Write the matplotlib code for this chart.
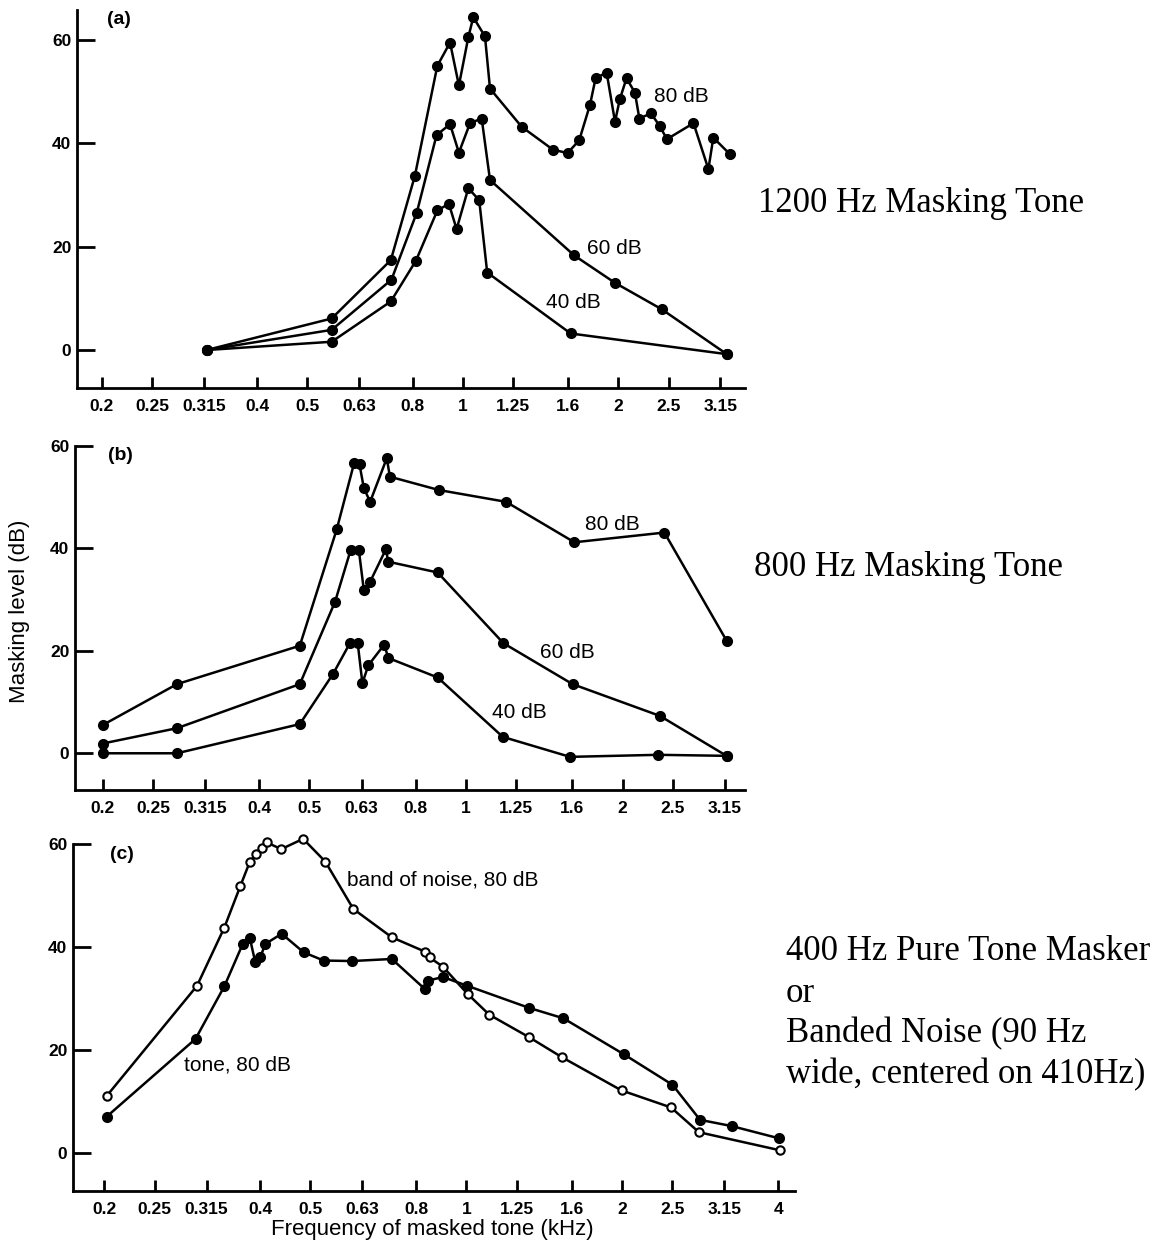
import matplotlib
matplotlib.use("Agg")
import matplotlib.pyplot as plt

# ---- data (kHz, dB) ----
tick_vals = [0.2, 0.25, 0.315, 0.4, 0.5, 0.63, 0.8, 1, 1.25, 1.6, 2, 2.5, 3.15, 4]
tick_labels = ["0.2", "0.25", "0.315", "0.4", "0.5", "0.63", "0.8", "1", "1.25", "1.6", "2", "2.5", "3.15", "4"]

# panel (a): 1200 Hz masker
a80_f = [0.319, 0.557, 0.725, 0.807, 0.892, 0.944, 0.982, 1.024, 1.047, 1.103, 1.128, 1.299, 1.492, 1.594,
         1.679, 1.762, 1.806, 1.897, 1.969, 2.013, 2.073, 2.152, 2.195, 2.311, 2.402, 2.482, 2.794, 2.986,
         3.052, 3.286]
a80_db = [0, 6.1, 17.4, 33.7, 55.0, 59.5, 51.2, 60.5, 64.4, 60.7, 50.6, 43.2, 38.8, 38.1,
          40.6, 47.5, 52.6, 53.7, 44.2, 48.6, 52.6, 49.8, 44.8, 45.8, 43.4, 40.8, 43.9, 35.0,
          41.1, 37.9]
a60_f = [0.319, 0.557, 0.727, 0.814, 0.889, 0.944, 0.982, 1.032, 1.087, 1.128, 1.642, 1.969, 2.424, 3.241]
a60_db = [0, 3.9, 13.6, 26.6, 41.6, 43.7, 38.2, 43.9, 44.8, 32.9, 18.3, 13.0, 7.9, -0.8]
a40_f = [0.319, 0.557, 0.725, 0.811, 0.892, 0.939, 0.972, 1.024, 1.075, 1.114, 1.616, 3.241]
a40_db = [0, 1.6, 9.4, 17.3, 27.0, 28.3, 23.4, 31.3, 29.0, 15.0, 3.2, -0.8]

# panel (b): 800 Hz masker
b80_f = [0.2, 0.278, 0.479, 0.564, 0.609, 0.624, 0.636, 0.654, 0.704, 0.714, 0.887, 1.194, 1.616, 2.407, 3.17]
b80_db = [5.5, 13.5, 21.0, 43.7, 56.6, 56.4, 51.8, 49.1, 57.6, 54.0, 51.4, 49.1, 41.2, 43.1, 22.0]
b60_f = [0.2, 0.278, 0.479, 0.560, 0.600, 0.622, 0.636, 0.654, 0.701, 0.709, 0.882, 1.18, 1.603, 2.36, 3.17]
b60_db = [1.9, 4.9, 13.5, 29.6, 39.7, 39.7, 31.9, 33.5, 39.8, 37.4, 35.3, 21.5, 13.5, 7.3, -0.5]
b40_f = [0.2, 0.278, 0.479, 0.555, 0.598, 0.619, 0.632, 0.649, 0.696, 0.709, 0.882, 1.177, 1.585, 2.34, 3.17]
b40_db = [0, 0, 5.7, 15.5, 21.5, 21.5, 13.7, 17.2, 21.2, 18.6, 14.8, 3.2, -0.7, -0.3, -0.5]

# panel (c): 400 Hz tone vs. band of noise
noise_f = [0.202, 0.302, 0.341, 0.366, 0.382, 0.393, 0.403, 0.412, 0.439, 0.484, 0.534, 0.605, 0.718,
           0.833, 0.849, 0.901, 1.006, 1.107, 1.323, 1.532, 1.994, 2.484, 2.812, 4.03]
noise_db = [11.1, 32.5, 43.8, 51.8, 56.6, 58.1, 59.3, 60.3, 59.0, 61.0, 56.6, 47.4, 41.9,
            39.1, 38.0, 36.2, 30.9, 26.9, 22.5, 18.6, 12.2, 8.9, 4.1, 0.6]
tone_f = [0.202, 0.300, 0.341, 0.370, 0.382, 0.391, 0.400, 0.409, 0.440, 0.485, 0.530, 0.601, 0.718,
          0.833, 0.843, 0.901, 1.004, 1.323, 1.539, 2.015, 2.50, 2.826, 3.25, 4.02]
tone_db = [7.1, 22.2, 32.4, 40.6, 41.7, 37.2, 38.0, 40.6, 42.6, 39.0, 37.4, 37.3, 37.7,
           31.8, 33.5, 34.2, 32.5, 28.2, 26.2, 19.2, 13.3, 6.5, 5.3, 2.9]

W, H = 1168, 1245
fig = plt.figure(figsize=(W / 100, H / 100), dpi=100)
plt.rcParams['font.family'] = ['Liberation Sans', 'DejaVu Sans']


def make_axes(left, right, top, bottom, xlim, ylim, nticks):
    ax = fig.add_axes([left / W, 1 - bottom / H, (right - left) / W, (bottom - top) / H])
    ax.set_xscale("log")
    ax.set_xlim(*xlim)
    ax.set_ylim(*ylim)
    for s in ["top", "right"]:
        ax.spines[s].set_visible(False)
    for s in ["left", "bottom"]:
        ax.spines[s].set_linewidth(2)
    ax.set_xticks(tick_vals[:nticks])
    ax.set_xticklabels(tick_labels[:nticks])
    ax.xaxis.set_minor_locator(matplotlib.ticker.NullLocator())
    ax.set_yticks([0, 20, 40, 60])
    ax.tick_params(axis="x", direction="in", length=8, width=2, pad=8, labelsize=12.5)
    ax.tick_params(axis="y", direction="in", length=13, width=2, pad=4, labelsize=12.5)
    for lab in ax.get_xticklabels() + ax.get_yticklabels():
        lab.set_fontweight("bold")
    return ax


def curve(ax, f, db, filled=True):
    ax.plot(f, db, color="black", lw=1.8, marker="o", ms=6.5 if filled else 6,
            mfc="black" if filled else "white", mec="black", mew=1.5, clip_on=False, zorder=3)


lbl = dict(fontsize=15, va="center", ha="left")

# (a)
ax_a = make_axes(77, 745, 10, 388, (0.179, 3.515), (-7.35, 65.8), 13)
curve(ax_a, a80_f, a80_db)
curve(ax_a, a60_f, a60_db)
curve(ax_a, a40_f, a40_db)
ax_a.text(0.205, 63.9, "(a)", fontsize=14, fontweight="bold", va="center")
ax_a.text(2.34, 49.0, "80 dB", **lbl)
ax_a.text(1.74, 19.7, "60 dB", **lbl)
ax_a.text(1.45, 9.1, "40 dB", **lbl)

# (b)
ax_b = make_axes(75, 745, 446, 790, (0.177, 3.44), (-7.17, 60), 13)
curve(ax_b, b80_f, b80_db)
curve(ax_b, b60_f, b60_db)
curve(ax_b, b40_f, b40_db)
ax_b.text(0.205, 58.2, "(b)", fontsize=14, fontweight="bold", va="center")
ax_b.text(1.69, 44.6, "80 dB", **lbl)
ax_b.text(1.39, 19.6, "60 dB", **lbl)
ax_b.text(1.12, 7.9, "40 dB", **lbl)

# (c)
ax_c = make_axes(73, 795, 844, 1191, (0.174, 4.31), (-7.3, 60), 14)
curve(ax_c, tone_f, tone_db, filled=True)
curve(ax_c, noise_f, noise_db, filled=False)
ax_c.text(0.205, 57.9, "(c)", fontsize=14, fontweight="bold", va="center")
ax_c.text(0.589, 53.1, "band of noise, 80 dB", **lbl)
ax_c.text(0.285, 17.1, "tone, 80 dB", **lbl)

fig.text(20 / W, 1 - 611 / H, "Masking level (dB)", rotation=90, fontsize=16, ha="center", va="center")
fig.text(432 / W, 1 - 1230 / H, "Frequency of masked tone (kHz)", fontsize=16, ha="center", va="center")

# right-hand annotations
serif = dict(fontsize=25, family=["Liberation Serif", "DejaVu Serif"], ha="left", va="baseline")
fig.text(758 / W, 1 - 212 / H, "1200 Hz Masking Tone", **serif)
fig.text(754 / W, 1 - 576 / H, "800 Hz Masking Tone", **serif)
c_lines = ["400 Hz Pure Tone Masker", "or", "Banded Noise (90 Hz", "wide, centered on 410Hz)"]
c_base = [960, 1002, 1042, 1083]
for t, yb in zip(c_lines, c_base):
    fig.text(786 / W, 1 - yb / H, t, **serif)

fig.savefig("out.png", dpi=100)
